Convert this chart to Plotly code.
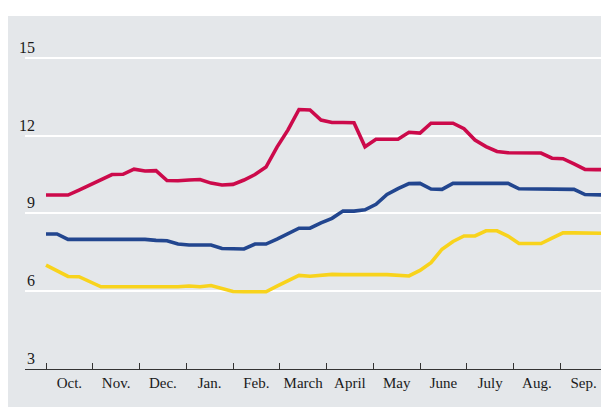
import plotly.graph_objects as go

# weekly observations, week 0 = first week of October
weeks = list(range(52))

red = [9.71, 9.71, 9.71, 9.90, 10.10, 10.29, 10.50, 10.51, 10.71, 10.64,
       10.65, 10.27, 10.26, 10.29, 10.31, 10.17, 10.10, 10.12, 10.29, 10.50,
       10.79, 11.56, 12.22, 13.01, 12.99, 12.60, 12.51, 12.51, 12.50, 11.57,
       11.86, 11.86, 11.86, 12.13, 12.10, 12.48, 12.48, 12.48, 12.27, 11.83,
       11.58, 11.39, 11.34, 11.34, 11.34, 11.33, 11.13, 11.11, 10.91, 10.70,
       10.69, 10.69]

blue = [8.21, 8.21, 8.00, 8.00, 8.00, 8.00, 8.00, 8.00, 8.00, 8.00,
        7.96, 7.95, 7.82, 7.78, 7.78, 7.78, 7.65, 7.63, 7.63, 7.82,
        7.82, 8.01, 8.22, 8.43, 8.43, 8.64, 8.81, 9.09, 9.09, 9.14,
        9.35, 9.73, 9.96, 10.15, 10.16, 9.94, 9.93, 10.16, 10.16, 10.16,
        10.16, 10.16, 10.16, 9.95, 9.94, 9.94, 9.94, 9.93, 9.93, 9.73,
        9.71, 9.71]

yellow = [7.01, 6.79, 6.57, 6.56, 6.37, 6.17, 6.17, 6.17, 6.15, 6.14,
          6.15, 6.15, 6.17, 6.20, 6.17, 6.22, 6.10, 5.99, 5.98, 5.98,
          5.98, 6.20, 6.39, 6.61, 6.58, 6.61, 6.65, 6.64, 6.63, 6.64,
          6.64, 6.64, 6.62, 6.59, 6.80, 7.10, 7.62, 7.92, 8.13, 8.13,
          8.33, 8.33, 8.13, 7.84, 7.84, 7.84, 8.05, 8.25, 8.25, 8.25,
          8.24, 8.23]

months = ["Oct.", "Nov.", "Dec.", "Jan.", "Feb.", "March", "April",
          "May", "June", "July", "Aug.", "Sep."]
month_len = 51 / 12  # weeks per month on this axis
month_edges = [k * month_len for k in range(13)]
month_mids = [(k + 0.5) * month_len for k in range(12)]

y_ticks = [3, 6, 9, 12, 15]

colors = {"red": "#cc0a4b", "blue": "#22468f", "yellow": "#f8d31c"}

fig = go.Figure()
for name, vals in [("red", red), ("blue", blue), ("yellow", yellow)]:
    fig.add_trace(go.Scatter(x=weeks, y=vals, mode="lines",
                             line=dict(color=colors[name], width=3.6),
                             showlegend=False, hoverinfo="skip"))

bg = "#e4e7ea"
fig.update_layout(
    width=609, height=407,
    margin=dict(l=17, r=9, t=11, b=46),
    paper_bgcolor=bg, plot_bgcolor=bg,
    showlegend=False,
    xaxis=dict(range=[-21 / 11, -21 / 11 + 53], showgrid=False, zeroline=False,
               showline=True, linecolor="#333333", linewidth=1.3,
               tickmode="array", tickvals=month_mids, ticktext=months,
               ticks="", tickfont=dict(family="Liberation Serif", size=15, color="#1a1a1a"),
               minor=dict(tickmode="array", tickvals=month_edges, ticks="inside",
                          ticklen=6, tickwidth=1, tickcolor="#333333", showgrid=False)),
    yaxis=dict(range=[3, 16.5], showgrid=True, gridcolor="white", gridwidth=1.5,
               tickmode="array", tickvals=y_ticks[1:], showticklabels=False,
               zeroline=False, showline=False, ticks=""),
    shapes=[
        dict(type="rect", xref="paper", yref="paper", x0=-0.1, x1=1.1,
             y0=1 + 3 / 350, y1=1.2, fillcolor="white", line=dict(width=0), layer="below"),
    ],
)

for v in y_ticks:
    fig.add_annotation(x=0, xref="paper", y=v, yref="y", text=str(v),
                       showarrow=False, xanchor="right", yanchor="bottom",
                       xshift=12, yshift=0,
                       font=dict(family="Liberation Serif", size=16, color="#1a1a1a"))

fig.write_html("out.html")
